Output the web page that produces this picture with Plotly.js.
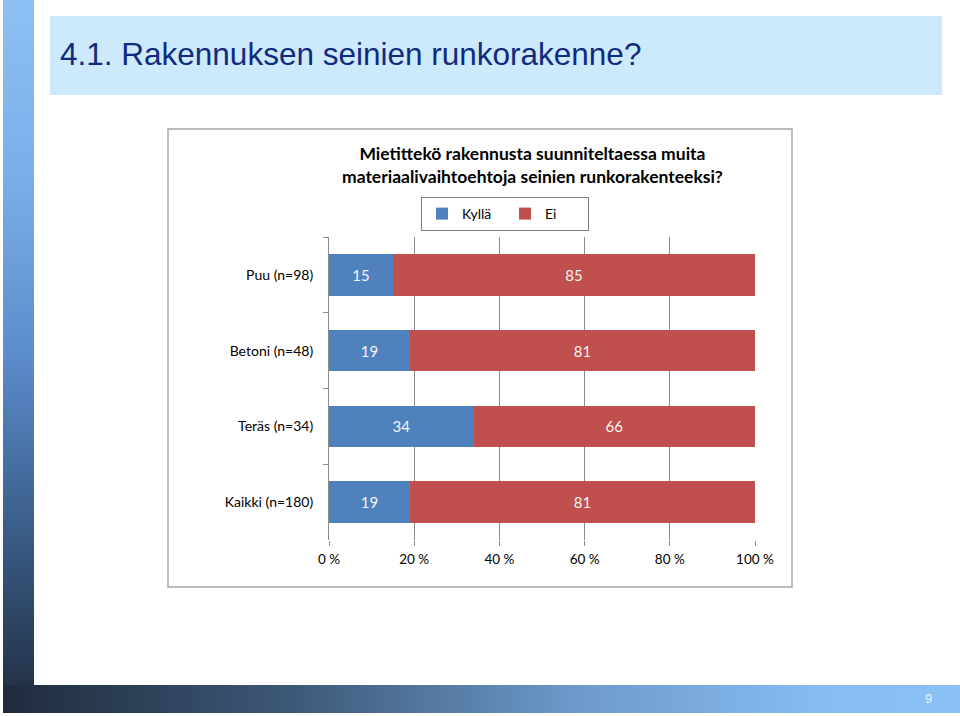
<!DOCTYPE html>
<html>
<head>
<meta charset="utf-8">
<script src="https://cdn.plot.ly/plotly-3.0.1.min.js"></script>
<style>
  html, body { margin: 0; padding: 0; background: #ffffff; }
  #slide { position: relative; width: 960px; height: 716px; overflow: hidden; background: #ffffff; }
  #leftbar { position: absolute; left: 3px; top: 0px; width: 31px; height: 713px;
    background: linear-gradient(to bottom, #8dc0f4 0%, #7aaee8 25%, #5b8ccc 50%, #3a5c86 75%, #1f2c3d 100%); }
  #bottombar { position: absolute; left: 3px; top: 685px; width: 957px; height: 28px;
    background: linear-gradient(to right, #1f2b3b 0%, #3d5877 30%, #6c9acb 60%, #86bcf2 85%, #8cc1f6 100%); }
  #chart { position: absolute; left: 0; top: 0; width: 960px; height: 716px; }
</style>
</head>
<body>
<div id="slide">
  <div id="leftbar"></div>
  <div id="bottombar"></div>
  <div id="chart"></div>
</div>
<script>
const categories = ["Puu (n=98)", "Betoni (n=48)", "Teräs (n=34)", "Kaikki (n=180)"];
const kylla = [15, 19, 34, 19];
const ei = [85, 81, 66, 81];
const seriesNames = ["Kyllä", "Ei"];
const xTickVals = [0, 20, 40, 60, 80, 100];
const xTickText = ["0 %", "20 %", "40 %", "60 %", "80 %", "100 %"];
const slideTitle = "4.1. Rakennuksen seinien runkorakenne?";
const chartTitle = "Mietittekö rakennusta suunniteltaessa muita<br>materiaalivaihtoehtoja seinien runkorakenteeksi?";
const pageNumber = "9";

const W = 960, H = 716;
const px = x => x / W;
const py = y => 1 - y / H;

const FAM = "Lato, 'Open Sans', sans-serif";
const barFont = { family: FAM, size: 15, color: "#f4f4f4" };

const traces = [
  {
    type: "bar", orientation: "h", name: seriesNames[0],
    y: categories, x: kylla,
    marker: { color: "#4f81bd" },
    text: kylla.map(String), textposition: "inside", insidetextanchor: "middle",
    textfont: barFont, hoverinfo: "skip"
  },
  {
    type: "bar", orientation: "h", name: seriesNames[1],
    y: categories, x: ei,
    marker: { color: "#c0504d" },
    text: ei.map(String), textposition: "inside", insidetextanchor: "middle",
    textfont: barFont, hoverinfo: "skip"
  }
];

const layout = {
  width: W, height: H,
  margin: { l: 0, r: 0, t: 0, b: 0 },
  paper_bgcolor: "rgba(0,0,0,0)",
  plot_bgcolor: "rgba(0,0,0,0)",
  barmode: "stack",
  bargap: 0.45,
  showlegend: true,
  font: { family: FAM, size: 13, color: "#000000" },
  xaxis: {
    domain: [px(329), px(755)],
    range: [0, 100],
    tickvals: xTickVals, ticktext: xTickText,
    showgrid: true, gridcolor: "#8c8c8c", gridwidth: 1,
    zeroline: false, showline: false,
    ticks: "outside", ticklen: 5, tickcolor: "#8c8c8c",
    ticklabelstandoff: 2,
    tickfont: { family: FAM, size: 13.5, color: "#000000" },
    fixedrange: true
  },
  yaxis: {
    domain: [py(540), py(237)],
    type: "category",
    autorange: "reversed",
    showline: true, linecolor: "#8c8c8c", linewidth: 1,
    ticks: "outside", ticklen: 5, tickcolor: "#8c8c8c", tickson: "boundaries",
    ticklabelstandoff: 12,
    showgrid: false, zeroline: false,
    tickfont: { family: FAM, size: 14, color: "#000000" },
    fixedrange: true
  },
  legend: {
    orientation: "h",
    x: px(505), xanchor: "center",
    y: py(214), yanchor: "middle",
    bordercolor: "#7f7f7f", borderwidth: 1,
    bgcolor: "#ffffff",
    font: { family: FAM, size: 14, color: "#000000" },
    itemwidth: 30,
    entrywidth: 38,
    traceorder: "normal",
    itemclick: false, itemdoubleclick: false
  },
  shapes: [
    { type: "rect", xref: "paper", yref: "paper", layer: "below",
      x0: px(50), x1: px(942), y0: py(95), y1: py(16),
      fillcolor: "#cceafb", line: { width: 0 } },
    { type: "rect", xref: "paper", yref: "paper", layer: "below",
      x0: px(168), x1: px(792), y0: py(587), y1: py(129),
      fillcolor: "#ffffff", line: { color: "#a6a6a6", width: 1.5 } }
  ],
  annotations: [
    { text: slideTitle, xref: "paper", yref: "paper",
      x: px(58), y: py(54), xanchor: "left", yanchor: "middle", showarrow: false,
      font: { family: "'Liberation Sans', Arial, sans-serif", size: 31.5, color: "#112a80" } },
    { text: "<b>" + chartTitle + "</b>", xref: "paper", yref: "paper",
      x: px(532), y: py(165), xanchor: "center", yanchor: "middle", showarrow: false,
      align: "center",
      font: { family: FAM, size: 17.5, color: "#000000" } },
    { text: pageNumber, xref: "paper", yref: "paper",
      x: px(928), y: py(698), xanchor: "center", yanchor: "middle", showarrow: false,
      font: { family: "'Liberation Sans', Arial, sans-serif", size: 13, color: "#e6f2ff" } }
  ]
};

Plotly.newPlot("chart", traces, layout, { displayModeBar: false, staticPlot: true });
</script>
</body>
</html>
